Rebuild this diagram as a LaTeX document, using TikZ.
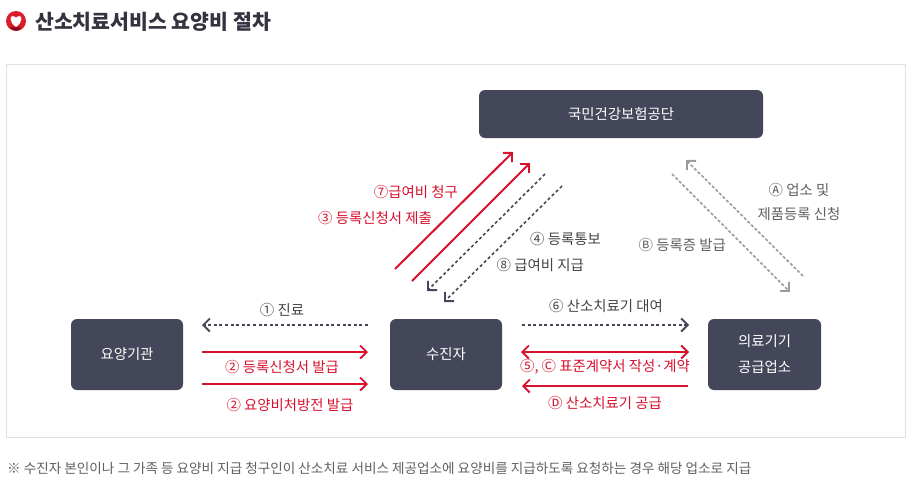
\documentclass[tikz,border=0pt]{standalone}
\usepackage{fontspec}
\setmainfont{Noto Sans CJK KR}
\usetikzlibrary{arrows.meta}
\definecolor{boxc}{HTML}{444659}
\definecolor{redc}{HTML}{D8112F}
\definecolor{grayc}{HTML}{9A9AA2}
\definecolor{txtc}{HTML}{444444}
\definecolor{titlec}{HTML}{33343F}
\tikzset{
 x=1pt,y=-1pt,
 bx/.style={fill=boxc,rounded corners=6pt,text=white,font=\fontsize{14.4}{26}\selectfont,align=center,inner sep=0pt,minimum height=71pt,minimum width=112pt},
 lb/.style={font=\fontsize{14.4}{24}\selectfont,text=txtc,inner sep=0pt,align=center},
 rl/.style={lb,text=redc},
 gl/.style={lb,text=txtc!85},
 tip/.style={-{Straight Barb[length=6.5pt,width=13pt,line width=1.9pt]}},
 redar/.style={tip,draw=redc,line width=2pt},
 redbi/.style={{Straight Barb[length=6.5pt,width=13pt,line width=1.9pt]}-{Straight Barb[length=6.5pt,width=13pt,line width=1.9pt]},draw=redc,line width=2pt},
 darkar/.style={tip,draw=boxc,line width=1.6pt,dash pattern=on 3pt off 2.6pt},
 grayar/.style={tip,draw=grayc,line width=1.6pt,dash pattern=on 3pt off 2pt},
}
\begin{document}
\begin{tikzpicture}
\useasboundingbox (0,0) rectangle (912,491);
\fill[white] (0,0) rectangle (912,491);
% title icon
\fill[fill=redc!90!orange] (16,21) circle (10pt);
\fill[redc!60!black] (9.5,27) -- (20,27) -- (20,29.5) .. controls (17,31.5) and (13,31) .. (9.5,27) -- cycle;
\fill[white] (16,27) .. controls (9,22) and (9.5,15.5) .. (13,16) .. controls (14.8,16.2) and (16,18) .. (16,18) .. controls (16,18) and (17.2,16.2) .. (19,16) .. controls (22.5,15.5) and (23,22) .. (16,27) -- cycle;
\node[anchor=west,inner sep=0pt,font=\fontsize{20.5}{24}\selectfont\bfseries,text=titlec] (title) at (35,22) {산소치료서비스 요양비 절차};
% frame
\draw[draw=black!12,line width=1pt] (6.5,64.5) rectangle (905.5,437.5);
% boxes
\node[bx,minimum width=284pt,minimum height=48pt] (nhis) at (621,114) {국민건강보험공단};
\node[bx] (hosp) at (127,354.5) {요양기관};
\node[bx] (pat) at (446,354.5) {수진자};
\node[bx,minimum width=113pt] (sup) at (764.5,354.5) {의료기기\\공급업소};
% connector ends
\coordinate (r1a) at (395,269); \coordinate (r1b) at (513,152);
\coordinate (r2a) at (412,281); \coordinate (r2b) at (530,163);
\coordinate (d1a) at (545,174); \coordinate (d1b) at (427,291);
\coordinate (d2a) at (562,186); \coordinate (d2b) at (444,302);
\coordinate (ga) at (803,276); \coordinate (gb) at (686,160);
\coordinate (ha) at (672,174); \coordinate (hb) at (790,292);
\coordinate (c1a) at (368,325); \coordinate (c1b) at (202,325);
\coordinate (c2a) at (202,352); \coordinate (c2b) at (368,352);
\coordinate (c3a) at (202,384); \coordinate (c3b) at (368,384);
\coordinate (c6a) at (522,325); \coordinate (c6b) at (689,325);
\coordinate (c5a) at (521,352); \coordinate (c5b) at (689,352);
\coordinate (cDa) at (688,386); \coordinate (cDb) at (522,386);
\draw[redar] (r1a) -- (r1b);
\draw[redar] (r2a) -- (r2b);
\draw[darkar] (d1a) -- (d1b);
\draw[darkar] (d2a) -- (d2b);
\draw[grayar] (ga) -- (gb);
\draw[grayar] (ha) -- (hb);
\draw[darkar] (c1a) -- (c1b);
\draw[redar] (c2a) -- (c2b);
\draw[redar] (c3a) -- (c3b);
\draw[darkar] (c6a) -- (c6b);
\draw[redbi] (c5a) -- (c5b);
\draw[redar] (cDa) -- (cDb);
% labels
\node[rl,anchor=east] (l7) at (458,192) {⑦급여비 청구};
\node[rl,anchor=east] (l3) at (432,218) {③ 등록신청서 제출};
\node[lb,anchor=east] (l4) at (601,239) {④ 등록통보};
\node[lb,anchor=east] (l8) at (584,265) {⑧ 급여비 지급};
\node[gl] (la) at (799,202) {Ⓐ 업소 및\\제품등록 신청};
\node[gl,anchor=east] (lb) at (726,245) {Ⓑ 등록증 발급};
\node[lb] (l1) at (282,310) {① 진료};
\node[rl] (l2) at (282,367) {② 등록신청서 발급};
\node[rl] (l2b) at (290,405) {② 요양비처방전 발급};
\node[lb] (l6) at (606,306) {⑥ 산소치료기 대여};
\node[rl] (l5) at (605,367) {⑤, Ⓒ 표준계약서 작성·계약};
\node[rl] (lD) at (605,403) {Ⓓ 산소치료기 공급};
\node[anchor=west,inner sep=0pt,font=\fontsize{13.6}{16}\selectfont,text=black!62] (foot) at (7,468) {※ 수진자 본인이나 그 가족 등 요양비 지급 청구인이 산소치료 서비스 제공업소에 요양비를 지급하도록 요청하는 경우 해당 업소로 지급};
\end{tikzpicture}
\end{document}
